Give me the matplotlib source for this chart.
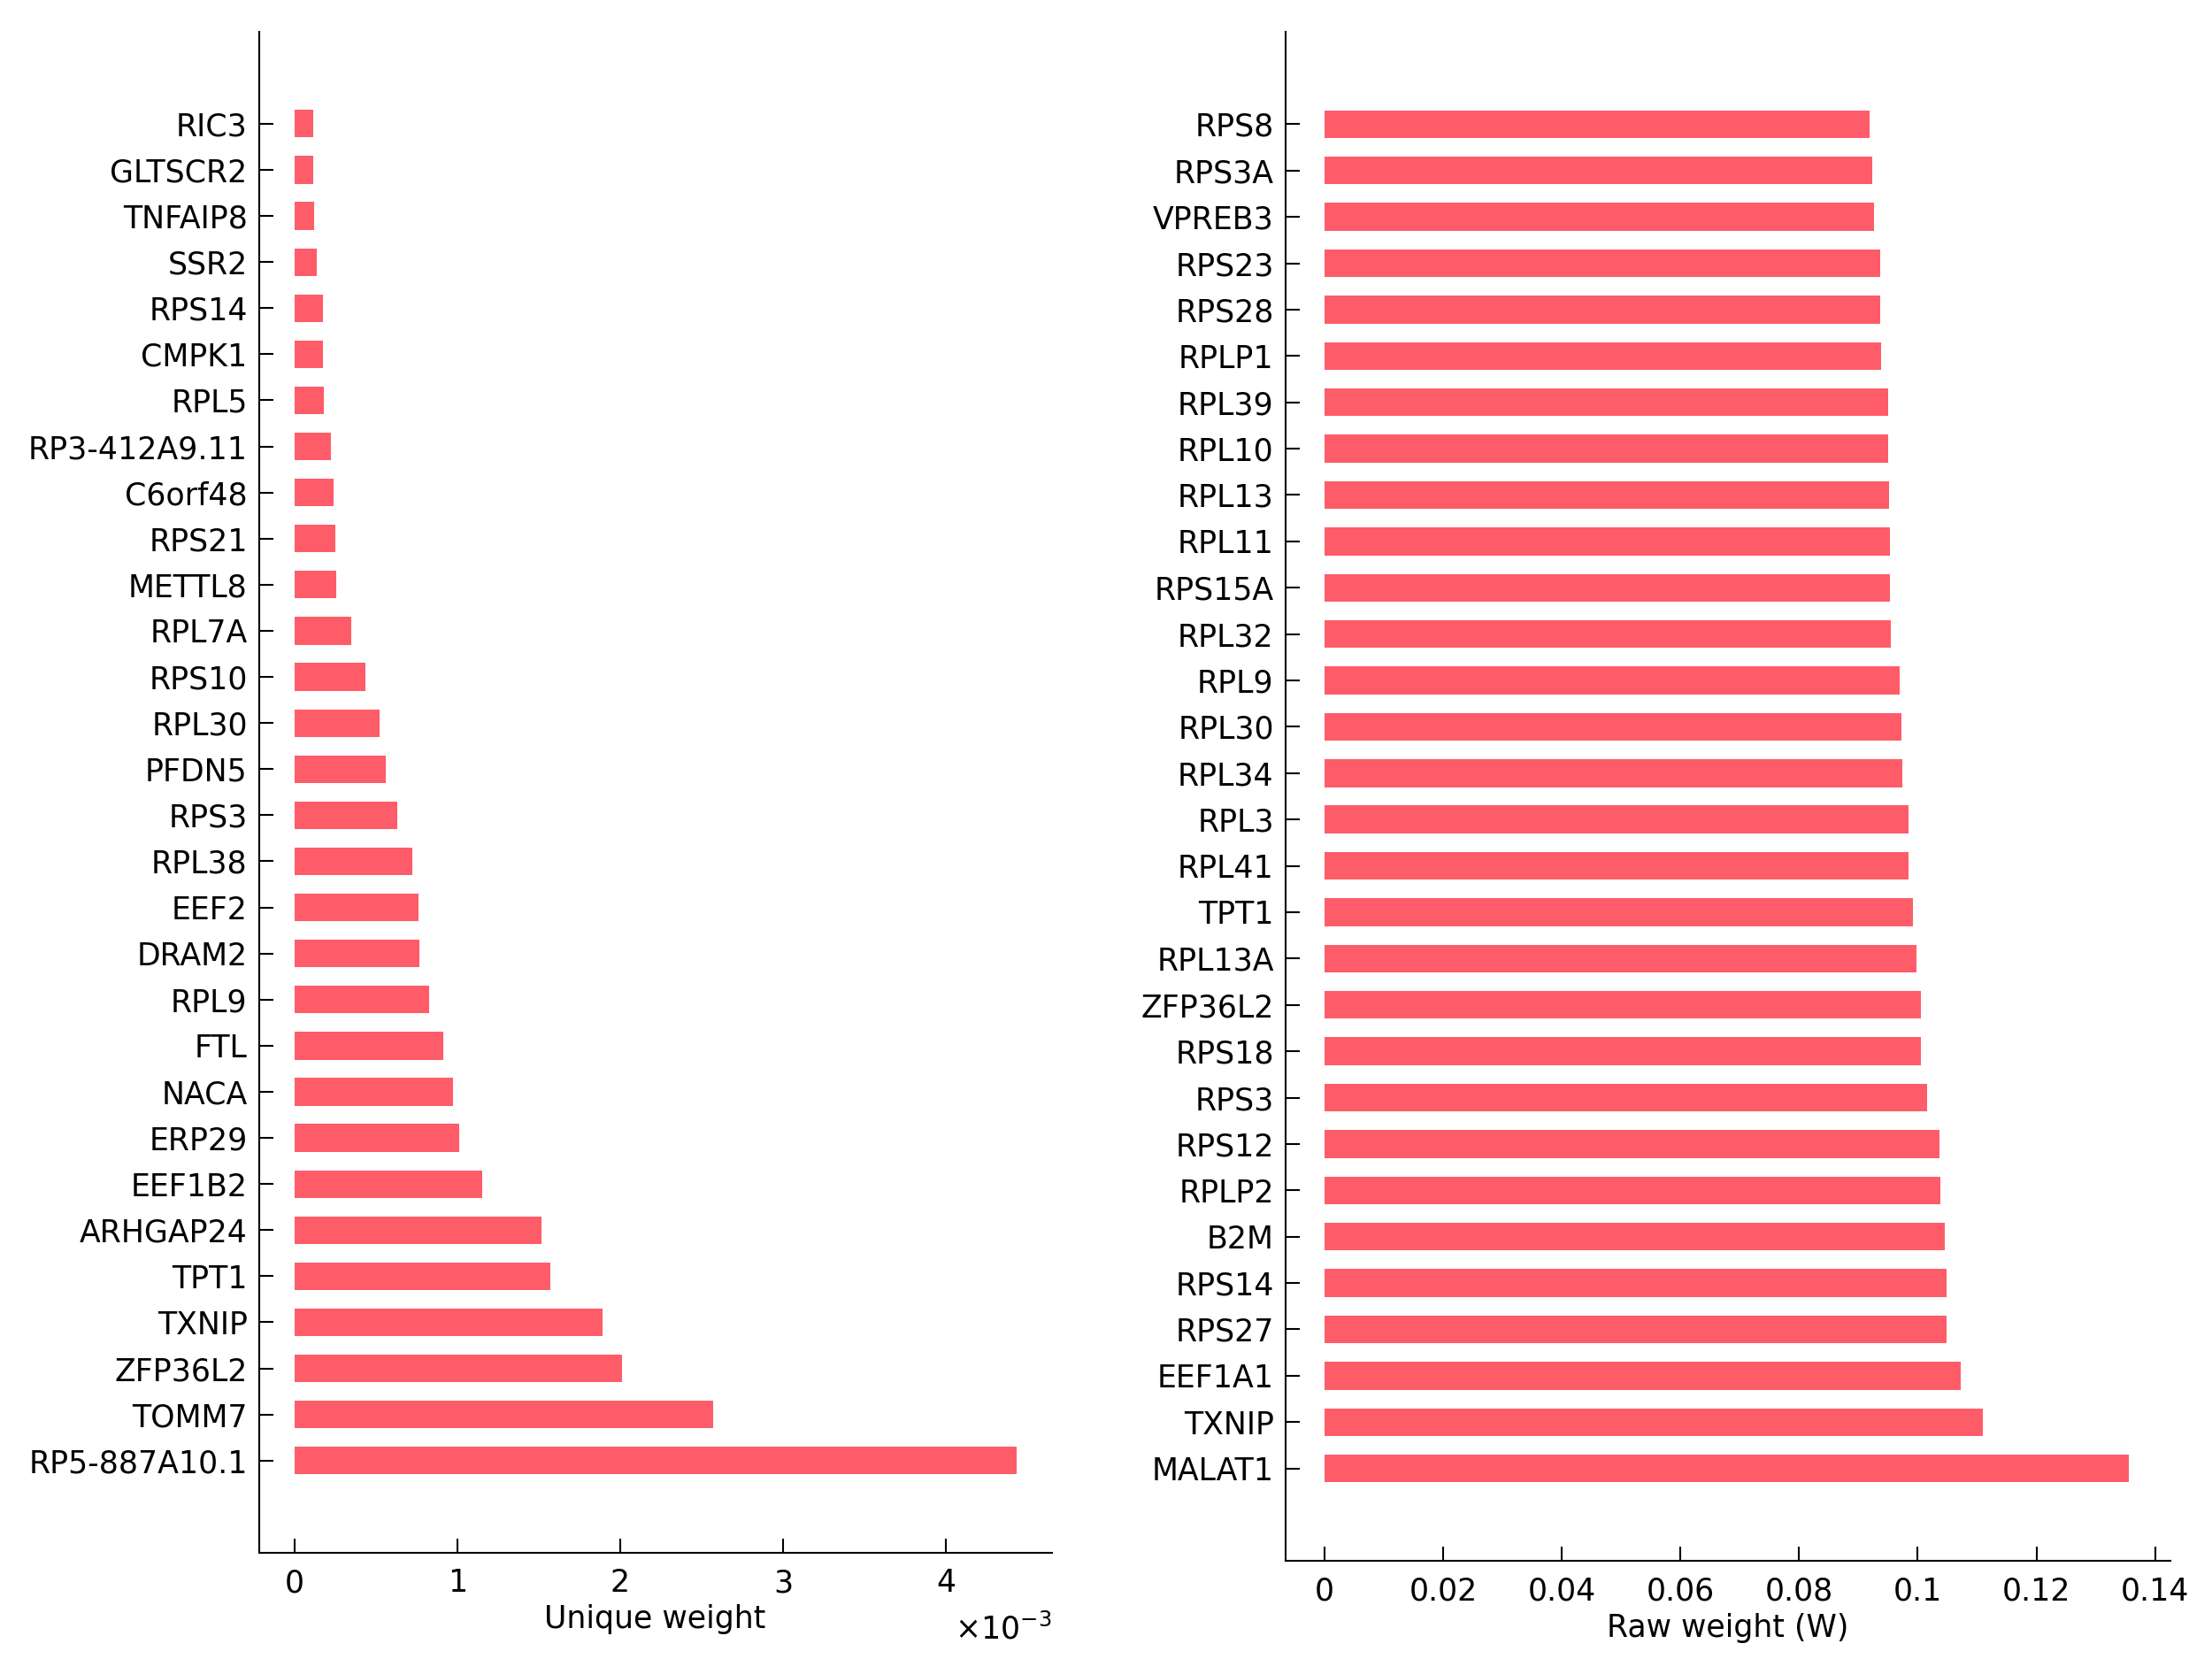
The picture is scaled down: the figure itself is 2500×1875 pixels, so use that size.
import numpy as np
import matplotlib
matplotlib.use("Agg")
import matplotlib.pyplot as plt
from matplotlib.ticker import FuncFormatter

# left panel: unique weight (top to bottom as drawn)
unique_genes = ["RIC3", "GLTSCR2", "TNFAIP8", "SSR2", "RPS14", "CMPK1", "RPL5",
                "RP3-412A9.11", "C6orf48", "RPS21", "METTL8", "RPL7A", "RPS10",
                "RPL30", "PFDN5", "RPS3", "RPL38", "EEF2", "DRAM2", "RPL9", "FTL",
                "NACA", "ERP29", "EEF1B2", "ARHGAP24", "TPT1", "TXNIP", "ZFP36L2",
                "TOMM7", "RP5-887A10.1"]
unique_vals = [0.114, 0.114, 0.118, 0.136, 0.175, 0.175, 0.180, 0.224, 0.241,
               0.250, 0.254, 0.351, 0.434, 0.522, 0.561, 0.632, 0.724, 0.763,
               0.768, 0.825, 0.912, 0.974, 1.013, 1.154, 1.518, 1.570, 1.890,
               2.013, 2.570, 4.434]
unique_vals = [v * 1e-3 for v in unique_vals]

# right panel: raw weight (top to bottom as drawn)
raw_genes = ["RPS8", "RPS3A", "VPREB3", "RPS23", "RPS28", "RPLP1", "RPL39",
             "RPL10", "RPL13", "RPL11", "RPS15A", "RPL32", "RPL9", "RPL30",
             "RPL34", "RPL3", "RPL41", "TPT1", "RPL13A", "ZFP36L2", "RPS18",
             "RPS3", "RPS12", "RPLP2", "B2M", "RPS14", "RPS27", "EEF1A1",
             "TXNIP", "MALAT1"]
raw_vals = [0.0919, 0.0924, 0.0926, 0.0936, 0.0937, 0.0938, 0.0950, 0.0950,
            0.0951, 0.0953, 0.0953, 0.0955, 0.0969, 0.0972, 0.0974, 0.0985,
            0.0985, 0.0992, 0.0998, 0.1005, 0.1006, 0.1016, 0.1036, 0.1038,
            0.1046, 0.1048, 0.1048, 0.1073, 0.1109, 0.1355]

bar_color = "#ff5c69"
fs = 10

fig = plt.figure(figsize=(10, 7.5), dpi=250)
ax1 = fig.add_axes([0.117, 0.064, 0.3585, 0.917])
ax2 = fig.add_axes([0.581, 0.059, 0.400, 0.922])


def style_axes(ax, genes, vals):
    n = len(genes)
    y = np.arange(n)
    ax.barh(y, vals, height=0.6, color=bar_color, edgecolor="none")
    ax.set_ylim(n + 1, -2)
    ax.set_yticks(y)
    ax.set_yticklabels(genes, fontsize=fs)
    for s in ["top", "right"]:
        ax.spines[s].set_visible(False)
    for s in ["left", "bottom"]:
        ax.spines[s].set_linewidth(0.6)
    ax.tick_params(axis="both", direction="in", length=4.6, width=0.6,
                   labelsize=fs)
    ax.tick_params(axis="y", pad=3.7)
    ax.tick_params(axis="x", pad=5)


style_axes(ax1, unique_genes, unique_vals)
ax1.set_xlim(-0.219e-3, 4.65e-3)
ax1.set_xticks(np.arange(0, 5) * 1e-3)
ax1.xaxis.set_major_formatter(FuncFormatter(lambda v, p: "%g" % round(v * 1e3, 6)))
ax1.set_xlabel("Unique weight", fontsize=fs, labelpad=2)
ax1.text(1.0, -0.05, r"$\times10^{-3}$", transform=ax1.transAxes,
         ha="right", va="center", fontsize=fs)

style_axes(ax2, raw_genes, raw_vals)
ax2.set_xlim(-0.0066, 0.1425)
ax2.set_xticks(np.arange(0, 0.141, 0.02))
ax2.xaxis.set_major_formatter(FuncFormatter(lambda v, p: "%g" % round(v, 6)))
ax2.set_xlabel("Raw weight (W)", fontsize=fs, labelpad=2)

fig.savefig("out.png", dpi=250, facecolor="white")
